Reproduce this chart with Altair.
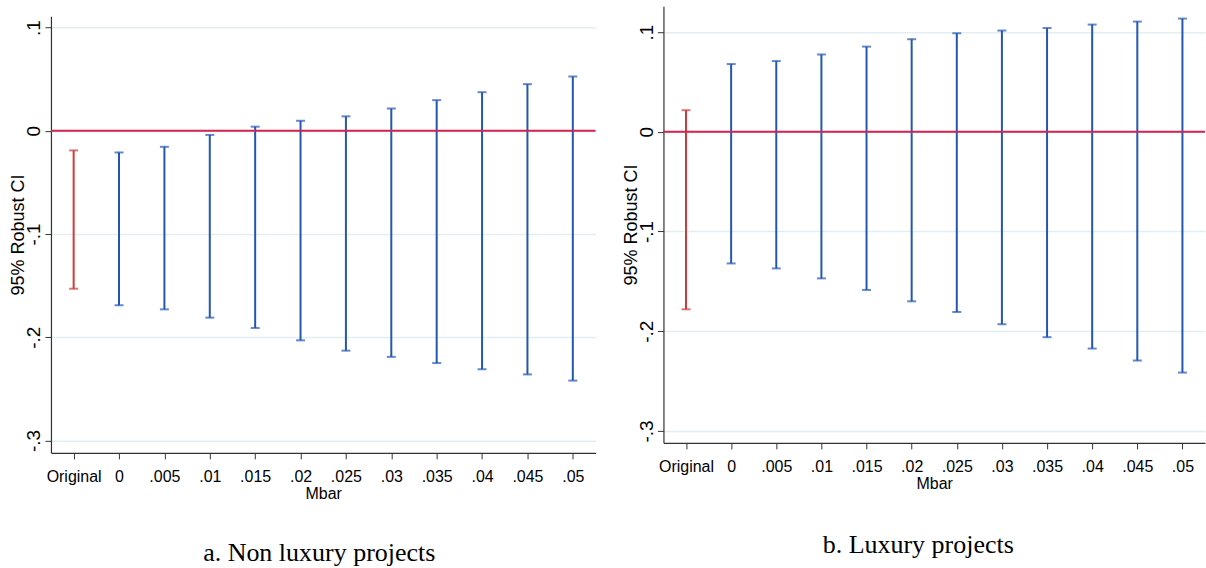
import altair as alt
import pandas as pd

categories = ["Original", "0", ".005", ".01", ".015", ".02", ".025", ".03", ".035", ".04", ".045", ".05"]
groups = ["Original"] + ["Mbar"] * 11

left_lo = [-0.153, -0.169, -0.173, -0.181, -0.191, -0.203, -0.213, -0.219, -0.225, -0.231, -0.236, -0.242]
left_hi = [-0.019, -0.021, -0.0155, -0.004, 0.004, 0.0097, 0.014, 0.0216, 0.0297, 0.0374, 0.0452, 0.0526]
right_lo = [-0.178, -0.132, -0.137, -0.147, -0.1586, -0.170, -0.1807, -0.193, -0.206, -0.2174, -0.2294, -0.2415]
right_hi = [0.0217, 0.068, 0.071, 0.0776, 0.0855, 0.0929, 0.0989, 0.1016, 0.1042, 0.1076, 0.1106, 0.1136]

y_ticks = [-0.3, -0.2, -0.1, 0, 0.1]
captions = ["a. Non luxury projects", "b. Luxury projects"]

BLUE = "#2457b3"
RED = "#cf3a3a"
ZERO = "#d3234f"
AXIS = "#333333"
GRID = "#e4edf1"

LABEL_EXPR = "(datum.value < -0.001 ? '-' : '') + (abs(datum.value) < 0.001 ? '0' : '.' + round(abs(datum.value) * 10))"


def panel(lo, hi, ydom, width, caption, cap_dx, cap_offset):
    df = pd.DataFrame({"cat": categories, "grp": groups, "lo": lo, "hi": hi})
    base = alt.Chart(df)
    xenc = alt.X(
        "cat:N",
        sort=categories,
        scale=alt.Scale(type="point", padding=0.5),
        title="Mbar",
        axis=alt.Axis(
            labelAngle=0,
            labelFont="Liberation Sans",
            labelFontSize=16,
            labelColor="black",
            labelPadding=10,
            tickSize=6,
            tickColor=AXIS,
            domainColor=AXIS,
            domainWidth=1.2,
            grid=False,
            titleFont="Liberation Sans",
            titleFontSize=16,
            titleFontWeight="normal",
            titleColor="black",
            titlePadding=1,
        ),
    )
    yscale = alt.Scale(domain=ydom, nice=False, zero=False)
    yaxis = alt.Axis(
        values=y_ticks,
        labelExpr=LABEL_EXPR,
        labelAngle=270,
        labelAlign="center",
        labelBaseline="alphabetic",
        labelFont="Liberation Sans",
        labelFontSize=19,
        labelColor="black",
        labelPadding=5,
        tickSize=6,
        tickColor=AXIS,
        domainColor=AXIS,
        domainWidth=1.2,
        grid=True,
        gridColor=GRID,
        gridWidth=1.5,
        titleFont="Liberation Sans",
        titleFontSize=18,
        titleFontWeight="normal",
        titleColor="black",
        titleBaseline="alphabetic",
        titleX=-27,
        titleY=437 / 2,
    )

    def yenc(field):
        return alt.Y(field, scale=yscale, axis=yaxis, title="95% Robust CI")

    color = alt.Color(
        "grp:N",
        scale=alt.Scale(domain=["Original", "Mbar"], range=[RED, BLUE]),
        legend=None,
    )
    rules = base.mark_rule(strokeWidth=2).encode(x=xenc, y=yenc("lo:Q"), y2="hi:Q", color=color)
    cap_lo = base.mark_tick(size=9, thickness=2).encode(x=xenc, y=yenc("lo:Q"), color=color)
    cap_hi = base.mark_tick(size=9, thickness=2).encode(x=xenc, y=yenc("hi:Q"), color=color)
    zero = alt.Chart(pd.DataFrame({"z": [0.0]})).mark_rule(color=ZERO, strokeWidth=2).encode(y=yenc("z:Q"))
    return alt.layer(rules, cap_lo, cap_hi, zero).properties(
        width=width,
        height=437,
        title=alt.TitleParams(
            caption,
            orient="bottom",
            frame="group",
            anchor="middle",
            dx=cap_dx,
            offset=cap_offset,
            font="Liberation Serif",
            fontSize=26,
            fontWeight="normal",
            color="black",
        ),
    )


left_panel = panel(left_lo, left_hi, [-0.312, 0.111], 545, captions[0], -4, 38)
right_panel = panel(right_lo, right_hi, [-0.312, 0.126], 542, captions[1], -16, 40)

spacer = alt.Chart(pd.DataFrame({"a": [0]})).mark_point(opacity=0, size=1).encode(
    x=alt.value(5), y=alt.value(5)
).properties(width=545, height=10)

left = alt.vconcat(spacer, left_panel, spacing=0)

chart = alt.hconcat(left, right_panel, spacing=26).properties(
    padding={"left": 10, "top": 6, "right": 0, "bottom": 0},
    background="white",
).configure_view(stroke=None)

chart.save("out.html", embed_options={"renderer": "svg", "actions": False})
